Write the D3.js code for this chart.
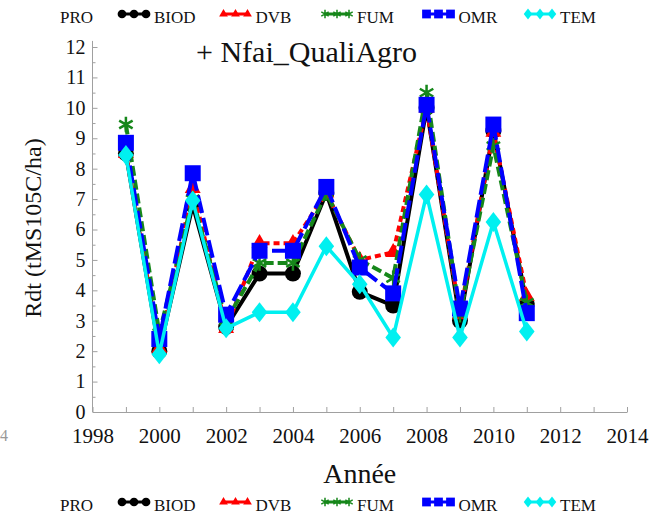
<!DOCTYPE html>
<html>
<head>
<meta charset="utf-8">
<script src="https://cdn.jsdelivr.net/npm/d3@7"></script>
<style>
  html, body { margin: 0; padding: 0; background: #fff; }
  svg { display: block; }
  text { font-family: "Liberation Serif", "Times New Roman", serif; fill: #111; }
</style>
</head>
<body>
<svg id="chart" width="652" height="516"></svg>
<script>
// Yield per year for each organic product (PRO) treatment
const years = [1999, 2000, 2001, 2002, 2003, 2004, 2005, 2006, 2007, 2008, 2009, 2010, 2011];
const seriesNames = ["BIOD", "DVB", "FUM", "OMR", "TEM"];
const biod = [8.5, 2.0, 6.8, 2.8, 4.55, 4.55, 7.2, 3.95, 3.5, 10.0, 3.0, 9.25, 3.55];
const dvb  = [8.5, 2.1, 7.35, 2.75, 5.55, 5.55, 7.2, 5.0, 5.25, 10.0, 3.2, 9.2, 3.8];
const fum  = [9.45, 2.6, 7.0, 3.0, 4.9, 4.9, 7.2, 5.0, 4.4, 10.5, 3.2, 8.75, 3.6];
const omr  = [8.85, 2.4, 7.85, 3.2, 5.3, 5.3, 7.4, 4.75, 3.9, 10.1, 3.4, 9.45, 3.25];
const tem  = [8.45, 1.9, 6.95, 2.75, 3.28, 3.28, 5.45, 4.2, 2.45, 7.15, 2.45, 6.25, 2.65];
const seriesValues = [biod, dvb, fum, omr, tem];
const xTickLabels = [1998, 2000, 2002, 2004, 2006, 2008, 2010, 2012, 2014];
const yTickLabels = [0, 1, 2, 3, 4, 5, 6, 7, 8, 9, 10, 11, 12];
const titleText = "+ Nfai_QualiAgro";
const xTitle = "Année";
const yTitle = "Rdt  (tMS105C/ha)";
const legendTitle = "PRO";

// Per-series drawing style
const colors = ["#000000", "#ff0000", "#16871a", "#0000ff", "#00f0f0"];
const dashes = [null, "6,4", "10,4", "18,5", null];
const widths = [4, 4, 4, 4, 3.5];

// Elongated diamond marker
const tallDiamond = {
  draw(ctx, size) {
    const h = Math.sqrt(size) * 0.62, w = h * 0.78;
    ctx.moveTo(0, -h); ctx.lineTo(w, 0); ctx.lineTo(0, h); ctx.lineTo(-w, 0); ctx.closePath();
  }
};
const markerTypes = [d3.symbolCircle, d3.symbolTriangle, d3.symbolAsterisk, d3.symbolSquare, tallDiamond];
const markerSizes = [200, 110, 170, 256, 260];
const markerStroke = [false, false, true, false, false];

const svg = d3.select("#chart");

const x = d3.scaleLinear().domain([1998, 2014]).range([92.5, 627]);
const y = d3.scaleLinear().domain([0, 12]).range([412, 47]);

const axisColor = "#a0a0a0";

// Axes: ticks pointing into the plot
const gx = svg.append("g").attr("transform", `translate(0,${y(0)})`);
gx.call(d3.axisBottom(x).tickValues(d3.range(1998, 2015)).tickSizeInner(-5).tickSizeOuter(0).tickFormat(""));
gx.select(".domain").attr("stroke", axisColor);
gx.selectAll(".tick line").attr("stroke", axisColor);

const gxl = svg.append("g").attr("transform", `translate(0,${y(0)})`);
gxl.call(d3.axisBottom(x).tickValues(xTickLabels).tickSize(0).tickPadding(16).tickFormat(d3.format("d")));
gxl.select(".domain").remove();
gxl.selectAll(".tick text").attr("font-size", 21).attr("font-family", "Liberation Serif").attr("fill", "#111");

const gyMinor = svg.append("g").attr("transform", `translate(${x(1998)},0)`);
gyMinor.call(d3.axisLeft(y).tickValues(d3.range(0.5, 12, 1)).tickSizeInner(-3).tickSizeOuter(0).tickFormat(""));
gyMinor.select(".domain").remove();
gyMinor.selectAll(".tick line").attr("stroke", axisColor);

const gy = svg.append("g").attr("transform", `translate(${x(1998)},0)`);
gy.call(d3.axisLeft(y).tickValues(yTickLabels).tickSizeInner(-5).tickSizeOuter(0).tickPadding(7).tickFormat(d3.format("d")));
gy.select(".domain").attr("stroke", axisColor).attr("d", `M0,${y(0)}V${y(12.2)}`);
gy.selectAll(".tick line").attr("stroke", axisColor);
gy.selectAll(".tick text").attr("font-size", 20).attr("font-family", "Liberation Serif").attr("fill", "#111");

// Titles
svg.append("text").attr("x", 196).attr("y", 62).attr("font-size", 30).text(titleText);
svg.append("text").attr("x", (x.range()[0] + x.range()[1]) / 2).attr("y", 483)
  .attr("text-anchor", "middle").attr("font-size", 28).text(xTitle);
svg.append("text").attr("transform", "translate(41,228) rotate(-90)")
  .attr("text-anchor", "middle").attr("font-size", 24).text(yTitle);
// small label fragment at the left border
svg.append("text").attr("x", 0).attr("y", 441)
  .attr("font-size", 16).style("fill", "#999").text("4");

// Series lines and markers
const line = d3.line().x((d, i) => x(years[i])).y(d => y(d));
seriesValues.forEach((vals, s) => {
  const g = svg.append("g").attr("class", "series-" + seriesNames[s]);
  g.append("path").datum(vals)
    .attr("d", line)
    .attr("fill", "none")
    .attr("stroke", colors[s])
    .attr("stroke-width", widths[s])
    .attr("stroke-dasharray", dashes[s])
    .attr("stroke-linejoin", "round");
  const sym = d3.symbol().type(markerTypes[s]).size(markerSizes[s]);
  g.selectAll("path.mk").data(vals).join("path")
    .attr("class", "mk")
    .attr("transform", (d, i) => `translate(${x(years[i])},${y(d)})`)
    .attr("d", sym)
    .attr("fill", markerStroke[s] ? "none" : colors[s])
    .attr("stroke", markerStroke[s] ? colors[s] : "none")
    .attr("stroke-width", 2.5);
});

// Legends (top and bottom rows)
function drawLegend(baseline) {
  const g = svg.append("g");
  g.append("text").attr("x", 60).attr("y", baseline).attr("font-size", 17).text(legendTitle);
  seriesNames.forEach((name, s) => {
    const x0 = 118 + s * 101.5;
    const cy = baseline - 9;
    g.append("line").attr("x1", x0 + 3).attr("x2", x0 + 29).attr("y1", cy).attr("y2", cy)
      .attr("stroke", colors[s]).attr("stroke-width", 3);
    const sym = d3.symbol().type(markerTypes[s]).size(markerSizes[s] * 0.3);
    [0, 1, 2].forEach(k => {
      g.append("path").attr("transform", `translate(${x0 + 4 + k * 12},${cy})`)
        .attr("d", sym)
        .attr("fill", markerStroke[s] ? "none" : colors[s])
        .attr("stroke", markerStroke[s] ? colors[s] : "none")
        .attr("stroke-width", 1.5);
    });
    g.append("text").attr("x", x0 + 36).attr("y", baseline).attr("font-size", 17).text(name);
  });
}
drawLegend(23);
drawLegend(511);
</script>
</body>
</html>
